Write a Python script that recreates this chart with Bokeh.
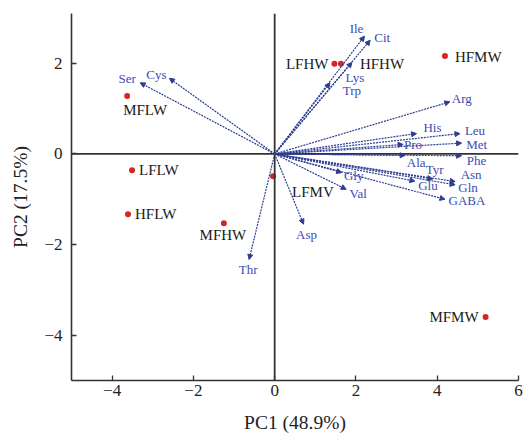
from bokeh.plotting import figure
from bokeh.models import (ColumnDataSource, Arrow, NormalHead, Span, FixedTicker, Range1d)
from bokeh.core.properties import value
from bokeh.embed import file_html
from bokeh.resources import INLINE

# ---- data ----
samples = ["HFMW", "LFHW", "HFHW", "MFLW", "LFLW", "HFLW", "MFHW", "LFMV", "MFMW"]
pc1_scores = [4.19, 1.47, 1.63, -3.63, -3.51, -3.61, -1.25, -0.04, 5.19]
pc2_scores = [2.16, 1.99, 1.99, 1.28, -0.36, -1.33, -1.53, -0.49, -3.60]

variables = ["Ile", "Cit", "Lys", "Trp", "Arg", "His", "Leu", "Pro", "Met", "Phe", "Ala",
             "Tyr", "Glu", "Asn", "Gln", "GABA", "Gly", "Val", "Asp", "Thr", "Ser", "Cys"]
pc1_loadings = [2.21, 2.35, 1.90, 1.36, 4.31, 3.49, 4.56, 3.16, 4.60, 4.60, 3.21,
                3.89, 3.45, 4.44, 4.44, 4.19, 1.65, 1.76, 0.71, -0.63, -3.31, -2.59]
pc2_loadings = [2.60, 2.51, 2.02, 1.57, 1.15, 0.45, 0.45, 0.21, 0.24, -0.04, -0.03,
                -0.55, -0.60, -0.61, -0.68, -1.00, -0.41, -0.78, -1.55, -2.33, 1.57, 1.67]

x_ticks = [-4, -2, 0, 2, 4, 6]
y_ticks = [-4, -2, 0, 2]
x_title = "PC1 (48.9%)"
y_title = "PC2 (17.5%)"

# ---- label placement (screen px, y down) ----
var_label_offsets = {
    "Ile": (-8, -8), "Cit": (12, -3), "Lys": (3, 15), "Trp": (22, 8), "Arg": (12, -3),
    "His": (16, -6), "Leu": (15, -3), "Pro": (10, 0), "Met": (15, 1), "Phe": (15, 5),
    "Ala": (11, 7), "Tyr": (2, -9), "Glu": (13, 4), "Asn": (16, -7), "Gln": (13, 3),
    "GABA": (22, 1), "Gly": (12, 3), "Val": (12, 4), "Asp": (3, 10), "Thr": (-1, 10),
    "Ser": (-13, -4), "Cys": (-13, -4),
}
sample_label_style = {
    "HFMW": ("left", 10, 1), "LFHW": ("right", -6, 0), "HFHW": ("left", 19, 0),
    "MFLW": ("left", -4, 14), "LFLW": ("left", 7, 0), "HFLW": ("left", 7, 0),
    "MFHW": ("center", -1, 12), "LFMV": ("left", 19, 16), "MFMW": ("right", -7, 0),
}

FONT = "Liberation Serif"
AXIS_COLOR = "#333333"
ARROW_COLOR = "#2e3d92"
VAR_TEXT = "#3a4cb4"
DOT = "#d42626"

p = figure(width=528, height=435, output_backend="svg", toolbar_location=None,
           x_range=Range1d(-5, 6), y_range=Range1d(-5, 3.1),
           min_border_left=71, min_border_right=10, min_border_top=13, min_border_bottom=54)
p.grid.visible = False
p.outline_line_color = None
p.background_fill_color = "white"
p.border_fill_color = "white"

for ax in (p.xaxis[0], p.yaxis[0]):
    ax.axis_line_color = AXIS_COLOR
    ax.axis_line_width = 1.6
    ax.major_tick_line_color = AXIS_COLOR
    ax.major_tick_line_width = 1.3
    ax.major_tick_in = 5
    ax.major_tick_out = 0
    ax.minor_tick_line_color = None
    ax.major_label_text_font = FONT
    ax.major_label_text_font_size = "17px"
    ax.major_label_text_color = "#222222"
    ax.axis_label_text_font = FONT
    ax.axis_label_text_font_size = "19.5px"
    ax.axis_label_text_font_style = "normal"
    ax.axis_label_text_color = "#222222"

p.xaxis.ticker = FixedTicker(ticks=x_ticks)
p.yaxis.ticker = FixedTicker(ticks=y_ticks)
p.xaxis.major_label_overrides = {t: (str(t).replace("-", "\u2212")) for t in x_ticks}
p.yaxis.major_label_overrides = {t: (str(t).replace("-", "\u2212")) for t in y_ticks}
p.xaxis.axis_label = x_title
p.yaxis.axis_label = y_title
p.xaxis.major_label_standoff = 4
p.xaxis.axis_label_standoff = 13
p.yaxis.major_label_standoff = 9
p.yaxis.axis_label_standoff = 10

p.add_layout(Span(location=0, dimension="width", line_color=AXIS_COLOR, line_width=1.8))
p.add_layout(Span(location=0, dimension="height", line_color=AXIS_COLOR, line_width=1.8))

# arrows
asrc = ColumnDataSource(dict(
    x0=[0.0] * len(variables), y0=[0.0] * len(variables),
    x=pc1_loadings, y=pc2_loadings,
))
p.add_layout(Arrow(source=asrc, x_start="x0", y_start="y0", x_end="x", y_end="y",
                   line_color=ARROW_COLOR, line_width=1.2, line_dash="2 1",
                   end=NormalHead(size=5, fill_color=ARROW_COLOR, line_color=ARROW_COLOR)))

vsrc = ColumnDataSource(dict(
    x=pc1_loadings, y=pc2_loadings, name=variables,
    dx=[var_label_offsets[v][0] for v in variables],
    dy=[var_label_offsets[v][1] for v in variables],
))
p.text(x="x", y="y", text="name", source=vsrc, x_offset="dx", y_offset="dy",
       text_font=value(FONT), text_font_size="13px", text_color=VAR_TEXT,
       text_align="center", text_baseline="middle")

# sample points
ssrc = ColumnDataSource(dict(
    x=pc1_scores, y=pc2_scores, name=samples,
    align=[sample_label_style[s][0] for s in samples],
    dx=[sample_label_style[s][1] for s in samples],
    dy=[sample_label_style[s][2] for s in samples],
))
p.scatter(x="x", y="y", source=ssrc, size=6, fill_color=DOT, line_color=None)
p.text(x="x", y="y", text="name", source=ssrc, x_offset="dx", y_offset="dy",
       text_align="align", text_font=value(FONT), text_font_size="15px",
       text_color="#1a1a1a", text_baseline="middle")

open("out.html", "w").write(file_html(p, INLINE))
